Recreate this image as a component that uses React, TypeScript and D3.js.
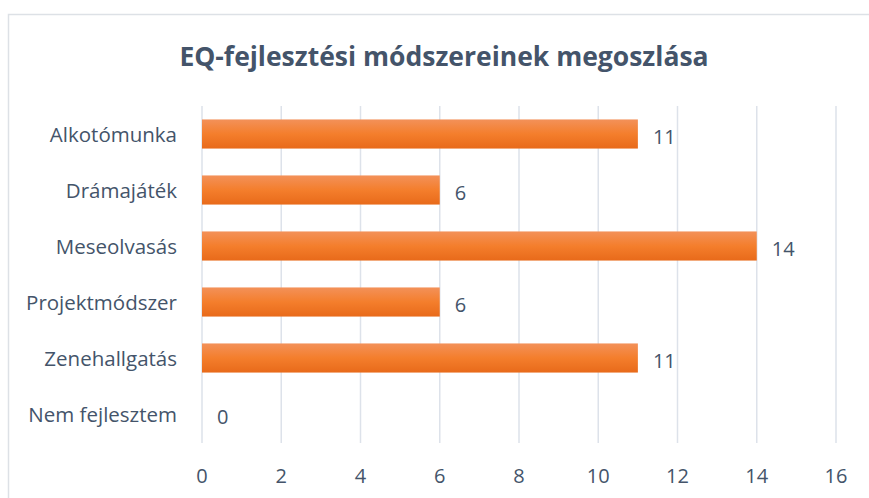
import React from "react";
import * as d3 from "d3";

const categories = ["Alkotómunka", "Drámajáték", "Meseolvasás", "Projektmódszer", "Zenehallgatás", "Nem fejlesztem"];
const values = [11, 6, 14, 6, 11, 0];
const xTicks = [0, 2, 4, 6, 8, 10, 12, 14, 16];
const title = "EQ-fejlesztési módszereinek megoszlása";

export default function App() {
  const W = 869, H = 498;
  const x = d3.scaleLinear().domain([0, 16]).range([202, 836]);
  const y = d3.scaleBand().domain(categories).range([106, 442]).paddingInner(0.48).paddingOuter(0.24);
  const font = "'Open Sans', sans-serif";
  const textColor = "#44546A";
  return (
    <svg width={W} height={H} style={{ position: "absolute", left: 0, top: 0 }}>
      <defs>
        <linearGradient id="barGrad" x1="0" y1="0" x2="0" y2="1">
          <stop offset="0" stopColor="#F39159" />
          <stop offset="0.5" stopColor="#F47E2C" />
          <stop offset="1" stopColor="#E86A1A" />
        </linearGradient>
      </defs>
      <rect x={0} y={0} width={W} height={H} fill="#fff" />
      <rect x={8.5} y={14.5} width={W + 10} height={H + 10} fill="#fff" stroke="#DDE1E6" strokeWidth={1.5} />
      <text x={444} y={66} textAnchor="middle" fontFamily={font} fontWeight={700} fontSize={26.5} fill={textColor}>
        {title}
      </text>
      {xTicks.map((t) => (
        <g key={t}>
          <line x1={x(t)} x2={x(t)} y1={106} y2={443} stroke="#DDE2EA" strokeWidth={1.5} />
          <text x={x(t)} y={483} textAnchor="middle" fontFamily={font} fontSize={20} fill={textColor}>
            {t}
          </text>
        </g>
      ))}
      {categories.map((c, i) => {
        const yy = y(c)!;
        const bw = y.bandwidth();
        return (
          <g key={c}>
            <rect x={x(0)} y={yy} width={x(values[i]) - x(0)} height={bw} fill="url(#barGrad)" />
            <text x={177} y={yy + bw / 2 + 8} textAnchor="end" fontFamily={font} fontSize={20.5} fill={textColor}>
              {c}
            </text>
            <text x={x(values[i]) + 15} y={yy + bw / 2 + 10} textAnchor="start" fontFamily={font} fontSize={20} fill={textColor}>
              {values[i]}
            </text>
          </g>
        );
      })}
    </svg>
  );
}
